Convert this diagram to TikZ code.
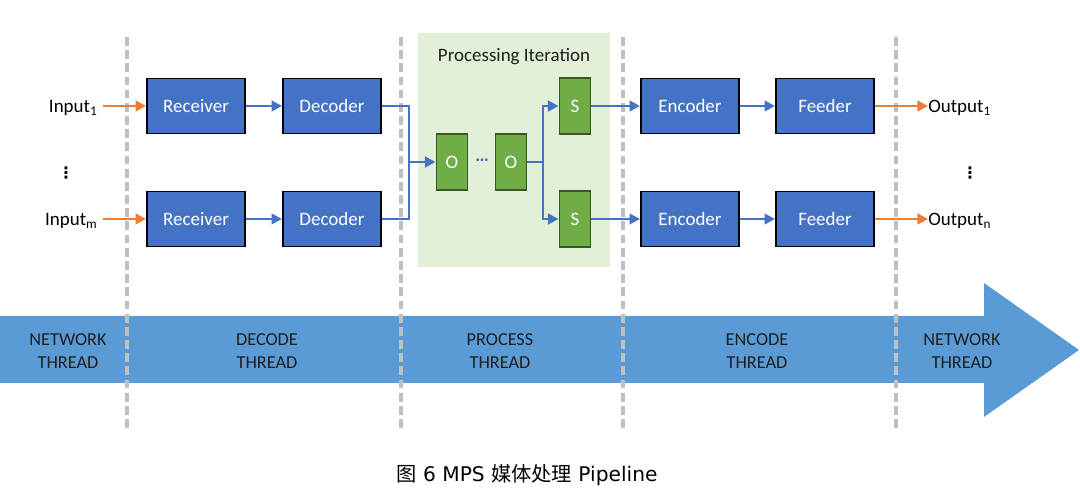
\documentclass[tikz,border=0pt]{standalone}
\usepackage{fontspec}
\setmainfont{Carlito}
\newfontfamily\cjk{Noto Sans CJK SC}
\newfontfamily\capfont{DejaVu Sans}
\usetikzlibrary{arrows.meta}
\definecolor{boxblue}{HTML}{4472C4}
\definecolor{boxgreen}{HTML}{70AD47}
\definecolor{darkgreen}{HTML}{385723}
\definecolor{iterbg}{HTML}{E2EFD9}
\definecolor{bandblue}{HTML}{5B9BD5}
\definecolor{inorange}{HTML}{ED7D31}
\definecolor{sepgray}{HTML}{BFBFBF}
\begin{document}
\begin{tikzpicture}[x=0.02cm,y=-0.02cm,font=\fontsize{10.8}{13}\selectfont,
 blk/.style={draw=black,line width=1.1pt,fill=boxblue,text=white,minimum width=1.96cm,minimum height=1.1cm,inner sep=0pt},
 opbox/.style={draw=darkgreen,line width=1.1pt,fill=boxgreen,text=white,minimum width=0.62cm,minimum height=1.12cm,inner sep=0pt},
 barrow/.style={draw=boxblue,line width=1.6pt,-{Triangle[length=6pt,width=6pt]}},
 oarrow/.style={draw=inorange,line width=1.6pt,-{Triangle[length=6pt,width=6pt]}},
 sep/.style={draw=sepgray,line width=2.2pt,dash pattern=on 5pt off 2.5pt},
 thr/.style={align=center,text=black!88,font=\fontsize{10.4}{13}\selectfont}]
 \useasboundingbox (0,0) rectangle (1080,496);
 % background of the processing iteration
 \fill[iterbg] (418,33) rectangle (610,267);
 \node[text=black!88] (itertitle) at (514,57) {Processing Iteration};
 % thread band
 \fill[bandblue] (0,316) -- (984,316) -- (984,283) -- (1079,350) -- (984,417) -- (984,383) -- (0,383) -- cycle;
 \node[thr] (net1) at (68,351) {NETWORK\\THREAD};
 \node[thr] (dect) at (267,351) {DECODE\\THREAD};
 \node[thr] (proct) at (500,351) {PROCESS\\THREAD};
 \node[thr] (enct) at (757,351) {ENCODE\\THREAD};
 \node[thr] (net2) at (962,351) {NETWORK\\THREAD};
 % thread borders
 \foreach \x in {127,401,623,896}
  \draw[sep] (\x,37) -- (\x,431);
 % pipeline boxes
 \node[blk] (rec1) at (196,106) {Receiver};
 \node[blk] (rec2) at (196,219) {Receiver};
 \node[blk] (dec1) at (332,106) {Decoder};
 \node[blk] (dec2) at (332,219) {Decoder};
 \node[opbox] (o1) at (452,162) {O};
 \node[opbox] (o2) at (511,162) {O};
 \node[text=boxblue] (odots) at (482,160) {\textbf{…}};
 \node[opbox] (s1) at (575,106) {S};
 \node[opbox] (s2) at (575,219) {S};
 \node[blk] (enc1) at (690,106) {Encoder};
 \node[blk] (enc2) at (690,219) {Encoder};
 \node[blk] (feed1) at (825,106) {Feeder};
 \node[blk] (feed2) at (825,219) {Feeder};
 % inputs and outputs
 \node[anchor=east,inner sep=0pt] (in1) at (98,108) {Input\textsubscript{1}};
 \node[anchor=east,inner sep=0pt] (inm) at (98,221) {Input\textsubscript{m}};
 \node (indots) at (66,173) {\capfont\fontsize{9}{10}\selectfont\textbf{⋮}};
 \node[anchor=west,inner sep=0pt] (out1) at (928,108) {Output\textsubscript{1}};
 \node[anchor=west,inner sep=0pt] (outn) at (928,221) {Output\textsubscript{n}};
 \node (outdots) at (970,173) {\capfont\fontsize{9}{10}\selectfont\textbf{⋮}};
 \coordinate (join) at (409,162);
 \coordinate (split) at (543,162);
 % connectors
 \draw[oarrow] (103,106) -- (rec1.west);
 \draw[oarrow] (103,219) -- (rec2.west);
 \draw[barrow] (rec1) -- (dec1);
 \draw[barrow] (rec2) -- (dec2);
 \draw[barrow] (dec1.east) -| (join) -- (o1.west);
 \draw[draw=boxblue,line width=1.6pt] (dec2.east) -| (join);
 \draw[barrow] (o2.east) -- (split) |- (s1.west);
 \draw[barrow] (split) |- (s2.west);
 \draw[barrow] (s1) -- (enc1);
 \draw[barrow] (s2) -- (enc2);
 \draw[barrow] (enc1) -- (feed1);
 \draw[barrow] (enc2) -- (feed2);
 \draw[oarrow] (feed1.east) -- (out1.west |- feed1.east);
 \draw[oarrow] (feed2.east) -- (outn.west |- feed2.east);
 % caption
 \node (caption) at (527,475) {\capfont\fontsize{11.5}{14}\selectfont{\cjk 图} 6 MPS {\cjk 媒体处理} Pipeline};
\end{tikzpicture}
\end{document}
